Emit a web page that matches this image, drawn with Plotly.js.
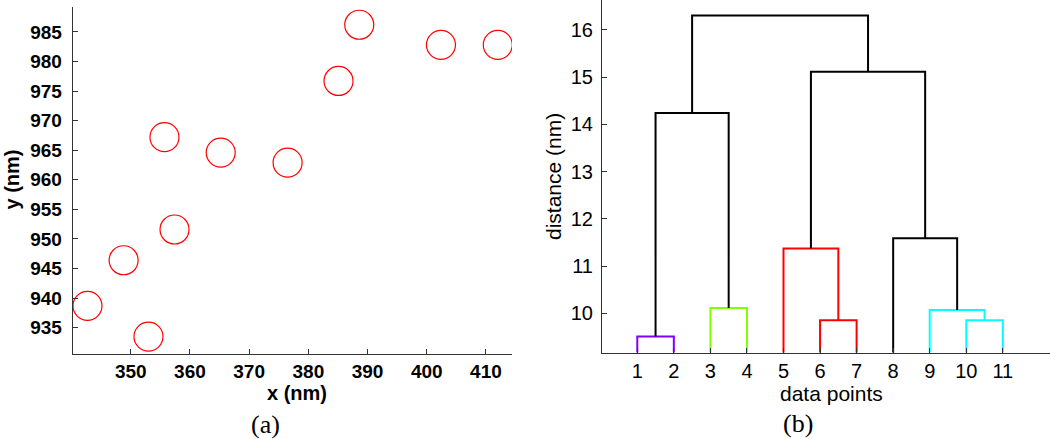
<!DOCTYPE html>
<html>
<head>
<meta charset="utf-8">
<script src="https://cdn.plot.ly/plotly-3.0.1.min.js"></script>
<style>
  html, body { margin: 0; padding: 0; background: white; }
  #chart { width: 1050px; height: 439px; }
</style>
</head>
<body>
<div id="chart"></div>
<script>
// (a) particle positions
const posX = [342.7, 348.8, 353.0, 357.4, 355.7, 365.2, 376.5, 385.1, 388.6, 402.4, 412.0];
const posY = [938.7, 946.4, 933.5, 951.6, 967.2, 964.6, 962.9, 976.7, 986.2, 982.8, 982.8];

// (b) dendrogram: leaves 1..11, new clusters numbered 12, 13, ...
const leafLabels = ['1', '2', '3', '4', '5', '6', '7', '8', '9', '10', '11'];
const mergeA = [1, 3, 6, 10, 9, 5, 8, 12, 17, 19];
const mergeB = [2, 4, 7, 11, 15, 14, 16, 13, 18, 20];
const mergeDist = [9.51, 10.11, 9.85, 9.85, 10.07, 11.37, 11.59, 14.24, 15.11, 16.30];
const mergeColor = ['#8000ff', '#80ff00', '#ff0000', '#00ffff', '#00ffff', '#ff0000',
                    'black', 'black', 'black', 'black'];

// position and height of every node
const nodeX = {}, nodeH = {};
leafLabels.forEach((l, i) => { nodeX[i + 1] = i + 1; nodeH[i + 1] = 0; });

const traces = [];
traces.push({
    x: posX, y: posY,
    type: 'scatter', mode: 'markers',
    marker: { symbol: 'circle-open', size: 29, color: '#ff0000', line: { width: 1.2 } },
    xaxis: 'x', yaxis: 'y',
    hoverinfo: 'x+y'
});

for (let k = 0; k < mergeA.length; k++) {
    const a = mergeA[k], b = mergeB[k], h = mergeDist[k];
    const id = leafLabels.length + 1 + k;
    nodeX[id] = (nodeX[a] + nodeX[b]) / 2;
    nodeH[id] = h;
    traces.push({
        x: [nodeX[a], nodeX[a], nodeX[b], nodeX[b]],
        y: [nodeH[a], h, h, nodeH[b]],
        type: 'scatter', mode: 'lines',
        line: { color: mergeColor[k], width: 2 },
        xaxis: 'x2', yaxis: 'y2',
        hoverinfo: 'skip'
    });
}

const sans = 'Liberation Sans, Arial, sans-serif';
const boldTick = { family: sans, size: 19, color: 'black', weight: 'bold' };
const boldTitle = { family: sans, size: 20, color: 'black', weight: 'bold' };
const regTick = { family: sans, size: 20, color: 'black' };
const regTitle = { family: sans, size: 21, color: 'black' };
const serif = { family: 'Liberation Serif, serif', size: 26, color: 'black' };

// px helpers for paper coordinates
const W = 1050, H = 439;
const px = v => v / W;
const py = v => (H - v) / H;

function note(text, x, y, font, angle) {
    return { text: text, x: px(x), y: py(y), xref: 'paper', yref: 'paper',
             xanchor: 'center', yanchor: 'middle', showarrow: false,
             textangle: angle || 0, font: font };
}

const layout = {
    width: W, height: H,
    margin: { l: 0, r: 0, t: 0, b: 0 },
    paper_bgcolor: 'white', plot_bgcolor: 'white',
    showlegend: false,
    xaxis: {
        domain: [px(72.7), px(512)], range: [340.2, 414.4],
        tickvals: [350, 360, 370, 380, 390, 400, 410],
        ticks: 'inside', ticklen: 5, tickcolor: '#333',
        showline: true, linecolor: '#333', linewidth: 1,
        showgrid: false, zeroline: false,
        tickfont: boldTick,
        anchor: 'y'
    },
    yaxis: {
        domain: [py(354), py(7)], range: [930.56, 989.2],
        tickvals: [935, 940, 945, 950, 955, 960, 965, 970, 975, 980, 985],
        ticks: 'inside', ticklen: 5, tickcolor: '#333',
        showline: true, linecolor: '#333', linewidth: 1,
        showgrid: false, zeroline: false,
        tickfont: boldTick, ticklabelstandoff: 6,
        anchor: 'x'
    },
    xaxis2: {
        domain: [px(602), 1], range: [0.035, 12.29],
        tickvals: leafLabels.map((l, i) => i + 1), ticktext: leafLabels,
        ticks: 'inside', ticklen: 5, tickcolor: '#333',
        showline: true, linecolor: '#333', linewidth: 1,
        showgrid: false, zeroline: false,
        tickfont: regTick,
        anchor: 'y2'
    },
    yaxis2: {
        domain: [py(352.5), 1], range: [9.17, 16.63],
        tickvals: [10, 11, 12, 13, 14, 15, 16],
        ticks: 'inside', ticklen: 5, tickcolor: '#333',
        showline: true, linecolor: '#333', linewidth: 1,
        showgrid: false, zeroline: false,
        tickfont: regTick, ticklabelstandoff: 4,
        anchor: 'x2'
    },
    annotations: [
        note('<b>x (nm)</b>', 296.5, 393, boldTitle),
        note('<b>y (nm)</b>', 11.5, 180, boldTitle, -90),
        note('data points', 831, 393, regTitle),
        note('distance (nm)', 553, 177, regTitle, -90),
        note('(a)', 265, 424, serif),
        note('(b)', 798, 423, serif)
    ]
};

Plotly.newPlot('chart', traces, layout, { displayModeBar: false, staticPlot: true });
</script>
</body>
</html>
